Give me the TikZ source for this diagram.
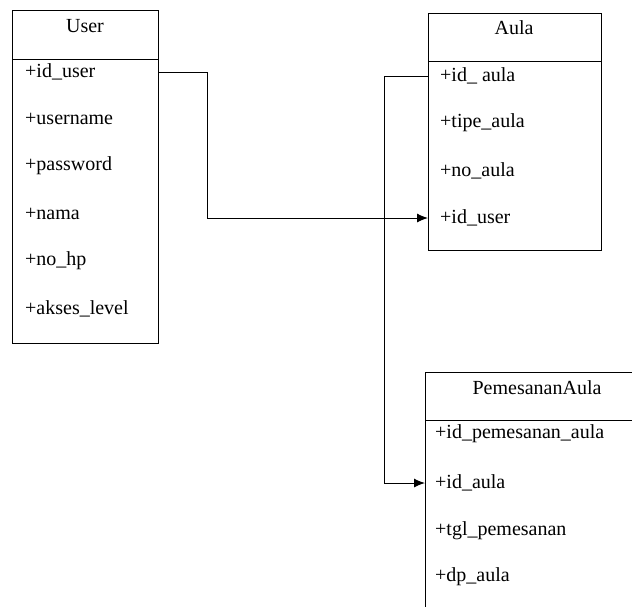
\documentclass[tikz,border=0pt]{standalone}
\usepackage{fontspec}
\setmainfont{Liberation Serif}
\usepackage{tikz}
\usetikzlibrary{arrows.meta,positioning,calc}

\begin{document}
\begin{tikzpicture}[
    x=1pt, y=-1pt,
    box/.style={rectangle, draw, line width=1pt, anchor=north west, inner sep=0pt},
    title/.style={inner sep=0pt, font=\fontsize{20}{24}\selectfont},
    field/.style={anchor=west, inner sep=0pt, font=\fontsize{20}{24}\selectfont},
    arrow/.style={-{Latex[length=11pt,width=9pt]}, line width=1pt}
]
    \useasboundingbox (0,0) rectangle (632,606);
    \clip (0,0) rectangle (632,606);

    % User
    \node[box, minimum width=146pt, minimum height=49pt] (userhead) at (12,10) {};
    \node[box, minimum width=146pt, minimum height=284pt] (userbody) at (12,59) {};
    \node[title] (usertitle) at (85,26) {User};
    \node[field] (u-id) at (25,72) {+id\_user};
    \node[field] (u-name) at (25,119) {+username};
    \node[field] (u-pass) at (25,166) {+password};
    \node[field] (u-nama) at (25,214) {+nama};
    \node[field] (u-hp) at (25,261) {+no\_hp};
    \node[field] (u-level) at (25,309) {+akses\_level};

    % Aula
    \node[box, minimum width=173pt, minimum height=48pt] (aulahead) at (428,13) {};
    \node[box, minimum width=173pt, minimum height=189pt] (aulabody) at (428,61) {};
    \node[title] (aulatitle) at (514,28) {Aula};
    \node[field] (a-id) at (440,76) {+id\_ aula};
    \node[field] (a-tipe) at (440,123) {+tipe\_aula};
    \node[field] (a-no) at (440,171) {+no\_aula};
    \node[field] (a-user) at (440,218) {+id\_user};

    % PemesananAula
    \node[box, minimum width=224pt, minimum height=48pt] (pemhead) at (425,372) {};
    \node[box, minimum width=224pt, minimum height=220pt] (pembody) at (425,420) {};
    \node[title] (pemtitle) at (537,388) {PemesananAula};
    \node[field] (p-id) at (435,434) {+id\_pemesanan\_aula};
    \node[field] (p-aula) at (435,483) {+id\_aula};
    \node[field] (p-tgl) at (435,531) {+tgl\_pemesanan};
    \node[field] (p-dp) at (435,577) {+dp\_aula};

    \draw[arrow] (u-id -| userbody.east) -- ++(48,0) |- (a-user -| aulabody.west);
    \draw[arrow] (a-id -| aulabody.west) -- ++(-44,0) |- (p-aula -| pembody.west);
\end{tikzpicture}
\end{document}
